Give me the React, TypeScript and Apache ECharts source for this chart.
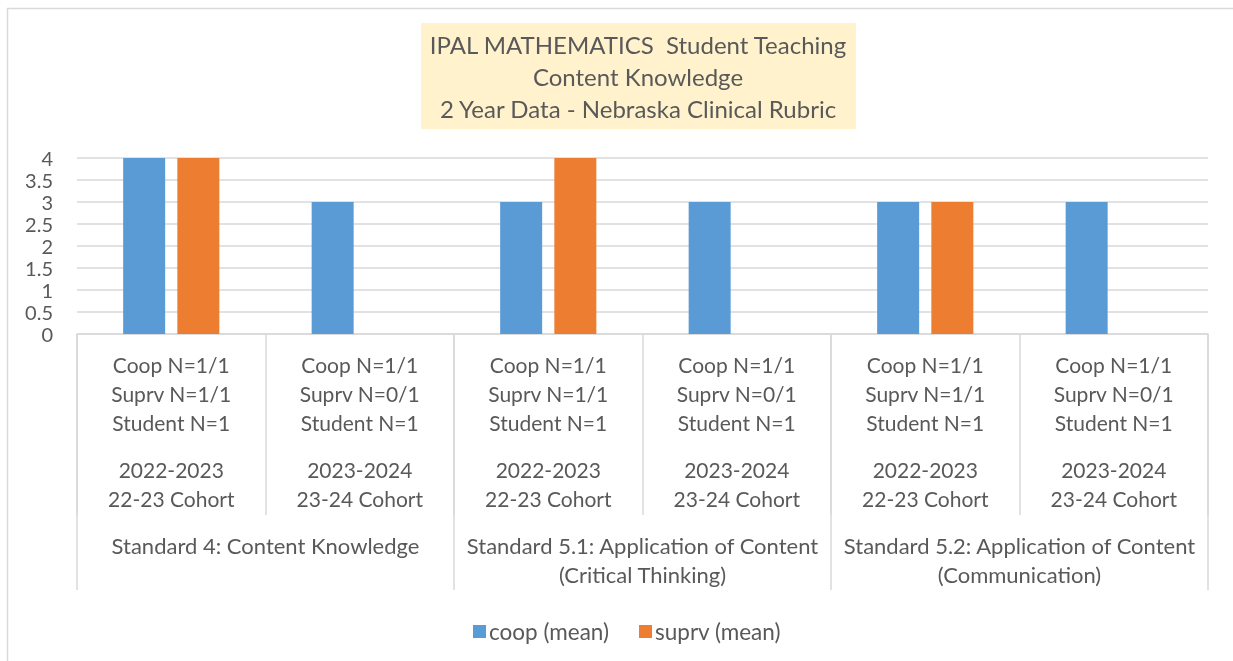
import React, { useEffect, useRef } from "react";
import * as echarts from "echarts";

const titleLines = [
  "IPAL MATHEMATICS  Student Teaching",
  "Content Knowledge",
  "2 Year Data - Nebraska Clinical Rubric",
];
const categories = [
  ["Coop N=1/1", "Suprv N=1/1", "Student N=1", "2022-2023", "22-23 Cohort"],
  ["Coop N=1/1", "Suprv N=0/1", "Student N=1", "2023-2024", "23-24 Cohort"],
  ["Coop N=1/1", "Suprv N=1/1", "Student N=1", "2022-2023", "22-23 Cohort"],
  ["Coop N=1/1", "Suprv N=0/1", "Student N=1", "2023-2024", "23-24 Cohort"],
  ["Coop N=1/1", "Suprv N=1/1", "Student N=1", "2022-2023", "22-23 Cohort"],
  ["Coop N=1/1", "Suprv N=0/1", "Student N=1", "2023-2024", "23-24 Cohort"],
];
const groups = [
  "Standard 4: Content Knowledge",
  "Standard 5.1: Application of Content\n(Critical Thinking)",
  "Standard 5.2: Application of Content\n(Communication)",
];
const coopMean = [4, 3, 3, 3, 3, 3];
const suprvMean: (number | null)[] = [4, null, 4, null, 3, null];
const seriesNames = ["coop (mean)", "suprv (mean)"];

const FONT = "Lato, 'Liberation Sans', sans-serif";
const TEXT = "#595959";
const GRID = "#D9D9D9";

export default function App() {
  const ref = useRef<HTMLDivElement>(null);
  useEffect(() => {
    if (!ref.current) return;
    const chart = echarts.init(ref.current, undefined, { renderer: "svg" });
    const catKeys = categories.map((c) => c.join("|"));
    chart.setOption({
      animation: false,
      textStyle: { fontFamily: FONT, color: TEXT },
      graphic: [
        {
          type: "rect",
          shape: { x: 7.5, y: 8.5, width: 1260, height: 700 },
          style: { fill: "#fff", stroke: GRID, lineWidth: 1.5 },
          z: -10,
        },
        {
          type: "rect",
          shape: { x: 421, y: 23, width: 435, height: 106 },
          style: { fill: "#FFF2CC" },
          z: -5,
        },
        {
          type: "text",
          x: 638,
          y: 28,
          style: {
            text: titleLines.join("\n"),
            fontFamily: FONT,
            fontSize: 24,
            lineHeight: 32,
            fill: TEXT,
            align: "center",
            verticalAlign: "top",
          },
        },
      ],
      legend: {
        left: 468,
        top: 615,
        itemWidth: 13,
        itemHeight: 13,
        itemGap: 30,
        icon: "rect",
        textStyle: { fontFamily: FONT, fontSize: 22.5, color: TEXT, padding: [0, 0, 0, -2] },
        data: seriesNames,
      },
      grid: { left: 77, right: 25, top: 158, bottom: 327, containLabel: false },
      yAxis: {
        type: "value",
        min: 0,
        max: 4,
        interval: 0.5,
        axisLine: { show: false },
        axisTick: { show: false },
        axisLabel: { fontFamily: FONT, fontSize: 20, lineHeight: 21, color: TEXT, margin: 24 },
        splitLine: { lineStyle: { color: GRID, width: 1.5 } },
      },
      xAxis: [
        {
          type: "category",
          data: catKeys,
          axisLine: { show: true, lineStyle: { color: GRID, width: 1.5 } },
          axisTick: { show: true, length: 181, interval: 0, lineStyle: { color: GRID, width: 1.5 } },
          axisLabel: {
            interval: 0,
            margin: 16,
            formatter: (v: string) => {
              const p = v.split("|");
              return `{a|${p[0]}}\n{a|${p[1]}}\n{a|${p[2]}}\n{g| }\n{a|${p[3]}}\n{a|${p[4]}}`;
            },
            rich: {
              a: { fontFamily: FONT, fontSize: 21, lineHeight: 29, color: TEXT },
              g: { fontSize: 10, lineHeight: 18 },
            },
          },
        },
        {
          type: "category",
          data: groups,
          position: "bottom",
          axisLine: { show: false },
          axisTick: { show: true, length: 256, interval: 0, lineStyle: { color: GRID, width: 1.5 } },
          axisLabel: {
            interval: 0,
            margin: 197,
            fontFamily: FONT,
            fontSize: 22,
            lineHeight: 29,
            color: TEXT,
          },
        },
      ],
      series: [
        {
          name: seriesNames[0],
          type: "bar",
          xAxisIndex: 0,
          data: coopMean,
          barWidth: 42,
          barGap: "29%",
          itemStyle: { color: "#5B9BD5" },
        },
        {
          name: seriesNames[1],
          type: "bar",
          xAxisIndex: 0,
          data: suprvMean.map((v) => (v === null ? "-" : v)),
          barWidth: 42,
          barGap: "29%",
          itemStyle: { color: "#ED7D31" },
        },
      ],
    });
    return () => chart.dispose();
  }, []);
  return (
    <div
      ref={ref}
      style={{ position: "fixed", left: 0, top: 0, width: 1233, height: 661 }}
    />
  );
}
